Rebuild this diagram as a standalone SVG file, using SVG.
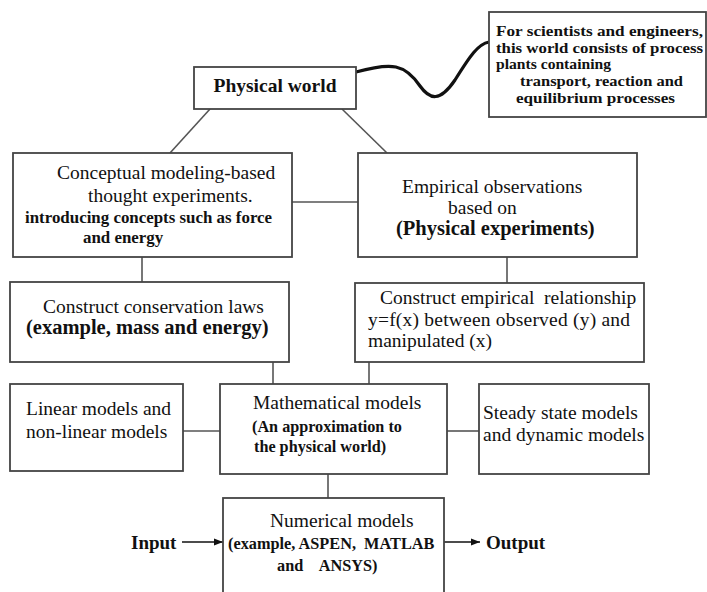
<svg xmlns="http://www.w3.org/2000/svg" width="707" height="592" viewBox="0 0 707 592">
<style>
.box{fill:#fff;stroke:#444;stroke-width:1.8}
.ln{stroke:#555;stroke-width:1.6;fill:none}
.r{font-family:"Liberation Serif","Times New Roman",serif;font-size:19.5px;fill:#111}
.b{font-family:"Liberation Serif","Times New Roman",serif;font-weight:bold;fill:#111}
</style>
<defs>
<marker id="ah" viewBox="0 0 10 10" refX="10" refY="5" markerWidth="9" markerHeight="9" markerUnits="userSpaceOnUse" orient="auto"><path d="M0,1 L10,5 L0,9 z" fill="#111"/></marker>
</defs>
<rect width="707" height="592" fill="#fff"/>
<g id="connectors">
<path d="M356,72 C392,62 405,64 420,86 C430,100 440,102 455,80 C470,56 478,44 489,42" stroke="#111" stroke-width="3.2" fill="none"/>
<line class="ln" x1="210" y1="109" x2="170" y2="153"/>
<line class="ln" x1="342" y1="109" x2="387" y2="153"/>
<line class="ln" x1="292" y1="202" x2="358" y2="202"/>
<line class="ln" x1="142" y1="257" x2="142" y2="282"/>
<line class="ln" x1="507" y1="257" x2="507" y2="283"/>
<line class="ln" x1="273" y1="362" x2="273" y2="384"/>
<line class="ln" x1="369" y1="362" x2="369" y2="384"/>
<line class="ln" x1="181" y1="431" x2="220" y2="431"/>
<line class="ln" x1="447" y1="431" x2="479" y2="431"/>
<line class="ln" x1="328" y1="474" x2="328" y2="498"/>
<line x1="182" y1="542" x2="223" y2="542" stroke="#111" stroke-width="1.6" marker-end="url(#ah)"/>
<line x1="444" y1="542" x2="480" y2="542" stroke="#111" stroke-width="1.6" marker-end="url(#ah)"/>
</g>
<g id="physical-world">
<rect class="box" x="194" y="67" width="162" height="42"/>
<text class="b" x="275" y="92" font-size="19.5" text-anchor="middle">Physical world</text>
</g>
<g id="note">
<rect class="box" x="489" y="12" width="217" height="105"/>
<text class="b" font-size="15.2" x="496" y="36" textLength="207" lengthAdjust="spacingAndGlyphs">For scientists and engineers,</text>
<text class="b" font-size="15.2" x="496" y="53" textLength="207" lengthAdjust="spacingAndGlyphs">this world consists of process</text>
<text class="b" font-size="15.2" x="496" y="69" textLength="115" lengthAdjust="spacingAndGlyphs">plants containing</text>
<text class="b" font-size="15.2" x="520" y="86" textLength="163" lengthAdjust="spacingAndGlyphs">transport, reaction and</text>
<text class="b" font-size="15.2" x="516" y="103" textLength="159" lengthAdjust="spacingAndGlyphs">equilibrium processes</text>
</g>
<g id="conceptual">
<rect class="box" x="13" y="153" width="279" height="104"/>
<text class="r" x="57" y="179">Conceptual modeling-based</text>
<text class="r" x="88" y="202">thought experiments.</text>
<text class="b" font-size="16.9" x="25" y="223">introducing concepts such as force</text>
<text class="b" font-size="16.9" x="83" y="243">and energy</text>
</g>
<g id="empirical">
<rect class="box" x="358" y="153" width="279" height="104"/>
<text class="r" x="402" y="193">Empirical observations</text>
<text class="r" x="448" y="214">based on</text>
<text class="b" font-size="20.5" x="396" y="235">(Physical experiments)</text>
</g>
<g id="conservation">
<rect class="box" x="10" y="282" width="279" height="80"/>
<text class="r" x="43" y="313">Construct conservation laws</text>
<text class="b" font-size="20.5" x="26" y="334">(example, mass and energy)</text>
</g>
<g id="empirical-relationship">
<rect class="box" x="355" y="283" width="289" height="79"/>
<text class="r" x="380" y="304" xml:space="preserve">Construct empirical  relationship</text>
<text class="r" x="368" y="326" textLength="262" lengthAdjust="spacing">y=f(x) between observed (y) and</text>
<text class="r" x="368" y="347">manipulated (x)</text>
</g>
<g id="linear">
<rect class="box" x="10" y="384" width="173" height="87"/>
<text class="r" x="26" y="415">Linear models and</text>
<text class="r" x="26" y="438">non-linear models</text>
</g>
<g id="mathematical">
<rect class="box" x="220" y="384" width="227" height="90"/>
<text class="r" x="253" y="409">Mathematical models</text>
<text class="b" font-size="16.2" x="252" y="432">(An approximation to</text>
<text class="b" font-size="16.2" x="254" y="452">the physical world)</text>
</g>
<g id="steady">
<rect class="box" x="479" y="384" width="170" height="90"/>
<text class="r" x="483" y="419">Steady state models</text>
<text class="r" x="483" y="441">and dynamic models</text>
</g>
<g id="numerical">
<rect class="box" x="223" y="498" width="221" height="100"/>
<text class="r" x="270" y="527">Numerical models</text>
<text class="b" font-size="16.3" x="228" y="549" xml:space="preserve">(example, ASPEN,  MATLAB</text>
<text class="b" font-size="16.3" x="277" y="571" xml:space="preserve">and    ANSYS)</text>
</g>
<g id="input">
<text class="b" font-size="19" x="131" y="549">Input</text>
</g>
<g id="output">
<text class="b" font-size="19" x="486" y="549">Output</text>
</g>
</svg>
